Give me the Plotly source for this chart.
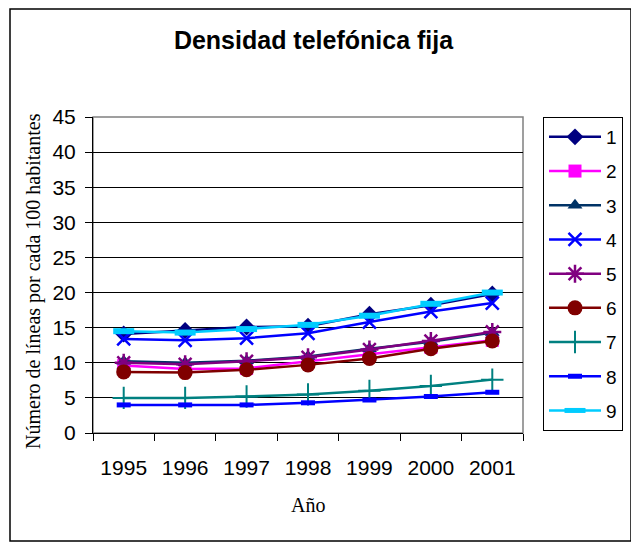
import plotly.graph_objects as go

years = ["1995", "1996", "1997", "1998", "1999", "2000", "2001"]
series_names = ["1", "2", "3", "4", "5", "6", "7", "8", "9"]

s1 = [14.1, 14.6, 15.1, 15.2, 16.9, 18.2, 19.8]
s2 = [9.6, 9.1, 9.2, 10.2, 11.2, 12.2, 13.2]
s3 = [10.2, 10.0, 10.3, 10.9, 12.0, 13.0, 14.3]
s4 = [13.4, 13.2, 13.5, 14.2, 15.8, 17.3, 18.5]
s5 = [10.0, 9.8, 10.2, 10.8, 11.9, 13.1, 14.4]
s6 = [8.7, 8.6, 9.0, 9.7, 10.6, 12.0, 13.1]
s7 = [5.0, 5.0, 5.2, 5.5, 6.0, 6.7, 7.6]
s8 = [4.0, 4.0, 4.0, 4.3, 4.7, 5.2, 5.8]
s9 = [14.5, 14.3, 14.8, 15.4, 16.7, 18.4, 20.0]
values = [s1, s2, s3, s4, s5, s6, s7, s8, s9]

colors = ["#000080", "#FF00FF", "#003366", "#0000FF", "#800080",
          "#800000", "#008080", "#0000FF", "#00CCFF"]
symbols = ["diamond", "square", "triangle-up", "x-thin", "asterisk",
           "circle", "cross-thin", "line-ew", "line-ew"]
msizes = [13, 13, 13, 13, 15, 15, 16, 10, 15]
mlinew = [0, 0, 0, 2.5, 2.5, 0, 2, 5, 6]

fig = go.Figure()
for i, (name, vals) in enumerate(zip(series_names, values)):
    fig.add_trace(go.Scatter(
        x=years, y=vals, name=name, mode="lines+markers",
        legendgroup=name,
        line=dict(color=colors[i], width=2.5),
        marker=dict(symbol=symbols[i], size=msizes[i], color=colors[i],
                    line=dict(color=colors[i], width=mlinew[i])),
    ))

# page body adds an 8px offset; targets below are given in screen pixels
OFF = 8
L, R, T, B = 93 - OFF, 523 - OFF, 117 - OFF, 433 - OFF
W, H = 639, 548
pw, ph = R - L, B - T

def px(x):
    return (x - OFF - L) / pw

def py(y):
    return (B - (y - OFF)) / ph

fig.update_layout(
    width=W, height=H,
    margin=dict(l=L, r=W - R, t=T, b=H - B, pad=0, autoexpand=False),
    paper_bgcolor="white", plot_bgcolor="white",
    font=dict(family="Liberation Sans, Arial, sans-serif", color="black"),
    title=dict(text="<b>Densidad telefónica fija</b>", font=dict(size=25, color="black"),
               x=(313.5 - OFF) / W, xref="container", xanchor="center",
               y=1 - (40 - OFF) / H, yref="container", yanchor="middle"),
    showlegend=True,
    legend=dict(x=px(543), y=1.0, xanchor="left", yanchor="top",
                bgcolor="white", bordercolor="black", borderwidth=1,
                font=dict(size=19, color="black"), traceorder="grouped",
                tracegroupgap=6.5, itemwidth=52),
    xaxis=dict(type="category", showline=True, linecolor="black", linewidth=1,
               ticks="outside", ticklen=7, tickcolor="black", tickson="boundaries",
               tickfont=dict(size=21), showgrid=False, zeroline=False,
               ticklabelstandoff=16, range=[-0.5, 6.5]),
    yaxis=dict(range=[0, 45], dtick=5, tick0=0, showline=True, linecolor="black",
               linewidth=1, ticks="outside", ticklen=7, tickcolor="black",
               tickfont=dict(size=21), showgrid=True, gridcolor="black", gridwidth=1,
               zeroline=False, ticklabelstandoff=5),
    shapes=[
        dict(type="rect", xref="paper", yref="paper", x0=0, x1=1, y0=0, y1=1,
             line=dict(color="#808080", width=1.5), layer="below"),
        dict(type="rect", xref="paper", yref="paper",
             x0=px(10), x1=px(631), y0=py(541), y1=py(9),
             line=dict(color="black", width=1.5)),
    ],
    annotations=[
        dict(text="Número de líneas por cada 100 habitantes", textangle=-90,
             xref="paper", yref="paper", x=px(33), y=py(281),
             xanchor="center", yanchor="middle", showarrow=False,
             font=dict(family="Liberation Serif, Times New Roman, serif", size=20, color="black")),
        dict(text="Año", xref="paper", yref="paper", x=px(308), y=py(505),
             xanchor="center", yanchor="middle", showarrow=False,
             font=dict(family="Liberation Serif, Times New Roman, serif", size=20, color="black")),
    ],
)

fig.write_html("out.html")
